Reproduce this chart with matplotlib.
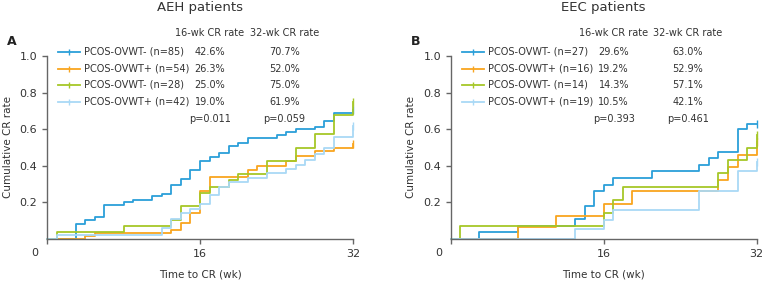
import matplotlib.pyplot as plt

plt.rcParams['font.family'] = ['DejaVu Sans']

colors = ['#2b9fd9', '#f9a51f', '#a6c728', '#a9d9f6']
labels_a = ['PCOS-OVWT- (n=85)', 'PCOS-OVWT+ (n=54)', 'PCOS-OVWT- (n=28)', 'PCOS-OVWT+ (n=42)']
labels_b = ['PCOS-OVWT- (n=27)', 'PCOS-OVWT+ (n=16)', 'PCOS-OVWT- (n=14)', 'PCOS-OVWT+ (n=19)']
rate16_a = ['42.6%', '26.3%', '25.0%', '19.0%']
rate32_a = ['70.7%', '52.0%', '75.0%', '61.9%']
rate16_b = ['29.6%', '19.2%', '14.3%', '10.5%']
rate32_b = ['63.0%', '52.9%', '57.1%', '42.1%']
pvals_a = ['p=0.011', 'p=0.059']
pvals_b = ['p=0.393', 'p=0.461']

# AEH step curves (time in weeks, cumulative CR rate)
a_blue_t = [0, 3, 4, 5, 6, 8, 9, 11, 12, 13, 14, 15, 16, 17, 18, 19, 20, 21, 24, 25, 26, 28, 29, 30, 32]
a_blue_v = [0, 0.082, 0.105, 0.118, 0.187, 0.20, 0.211, 0.233, 0.247, 0.293, 0.327, 0.375, 0.426,
            0.447, 0.469, 0.509, 0.524, 0.55, 0.568, 0.586, 0.60, 0.614, 0.647, 0.69, 0.707]
a_orange_t = [0, 4, 5, 13, 14, 15, 16, 17, 21, 22, 25, 26, 28, 30, 32]
a_orange_v = [0, 0.018, 0.035, 0.05, 0.085, 0.14, 0.263, 0.338, 0.375, 0.397, 0.424, 0.455, 0.48, 0.50, 0.52]
a_green_t = [0, 1, 8, 13, 14, 16, 17, 19, 20, 23, 26, 28, 30, 32]
a_green_v = [0, 0.036, 0.069, 0.105, 0.178, 0.25, 0.285, 0.32, 0.357, 0.428, 0.50, 0.575, 0.68, 0.75]
a_light_t = [0, 1, 12, 13, 14, 15, 16, 17, 18, 19, 21, 23, 25, 26, 27, 28, 29, 30, 32]
a_light_v = [0, 0.024, 0.06, 0.11, 0.14, 0.165, 0.19, 0.24, 0.284, 0.311, 0.333, 0.36, 0.38, 0.405,
             0.433, 0.466, 0.50, 0.56, 0.619]

# EEC step curves
b_blue_t = [0, 3, 7, 13, 14, 15, 16, 17, 21, 26, 27, 28, 30, 31, 32]
b_blue_v = [0, 0.036, 0.073, 0.109, 0.182, 0.26, 0.296, 0.333, 0.369, 0.405, 0.442, 0.478, 0.60, 0.63, 0.63]
b_orange_t = [0, 7, 11, 16, 19, 28, 29, 30, 32]
b_orange_v = [0, 0.065, 0.124, 0.192, 0.26, 0.324, 0.393, 0.46, 0.529]
b_green_t = [0, 1, 16, 17, 18, 28, 29, 31, 32]
b_green_v = [0, 0.071, 0.142, 0.215, 0.284, 0.36, 0.43, 0.50, 0.571]
b_light_t = [0, 13, 16, 17, 26, 30, 32]
b_light_v = [0, 0.055, 0.105, 0.16, 0.26, 0.369, 0.421]

fig = plt.figure(figsize=(7.64, 2.81), dpi=100)
ax1 = fig.add_axes([47 / 764, 42 / 281, 306 / 764, 183 / 281])
ax2 = fig.add_axes([450.7 / 764, 42 / 281, 306 / 764, 183 / 281])

grey = '#666666'
txt = '#333333'


def draw_panel(ax, curves, labels, r16, r32, pv, title, letter):
    for (t, v), c in zip(curves, colors):
        ax.step(t, v, where='post', color=c, lw=1.3, clip_on=False)
        ax.plot(t[-1], v[-1], marker='|', color=c, ms=6, mew=1.0, clip_on=False)
    ax.set_xlim(0, 32)
    ax.set_ylim(0, 1.0)
    for s in ['top', 'right']:
        ax.spines[s].set_visible(False)
    for s in ['left', 'bottom']:
        ax.spines[s].set_color(grey)
        ax.spines[s].set_linewidth(1.0)
    ax.set_xticks([0, 16, 32])
    ax.set_xticklabels(['', '16', '32'])
    ax.set_yticks([0.2, 0.4, 0.6, 0.8, 1.0])
    ax.set_yticklabels(['0.2', '0.4', '0.6', '0.8', '1.0'])
    ax.tick_params(colors=grey, labelcolor=txt, labelsize=8, length=3.5, width=1.0)
    ax.text(-0.04, -0.075, '0', transform=ax.transAxes, ha='center', va='center', fontsize=8, color=txt)
    ax.set_xlabel('Time to CR (wk)', fontsize=7.5, color=txt, labelpad=8)
    ax.set_ylabel('Cumulative CR rate', fontsize=7.5, color=txt, labelpad=5)
    ax.set_title(title, fontsize=9.5, color=txt, y=1.2)
    ax.text(-0.13, 1.077, letter, transform=ax.transAxes, va='center', fontsize=9,
            fontweight='bold', color='#222222')

    # legend table
    ax.text(17.05, 1.126, '16-wk CR rate', ha='center', va='center', fontsize=7, color=txt, clip_on=False)
    ax.text(24.8, 1.126, '32-wk CR rate', ha='center', va='center', fontsize=7, color=txt, clip_on=False)
    rows = [1.023, 0.931, 0.842, 0.75]
    for y, c, lab, a, b in zip(rows, colors, labels, r16, r32):
        ax.plot([1.15, 3.45], [y, y], color=c, lw=1.3, clip_on=False)
        ax.plot([2.3], [y], marker='|', color=c, ms=5, mew=1.0, clip_on=False)
        ax.text(3.9, y, lab, ha='left', va='center', fontsize=7, color=txt, clip_on=False)
        ax.text(17.05, y, a, ha='center', va='center', fontsize=7, color=txt, clip_on=False)
        ax.text(24.8, y, b, ha='center', va='center', fontsize=7, color=txt, clip_on=False)
    ax.text(17.05, 0.657, pv[0], ha='center', va='center', fontsize=7, color=txt, clip_on=False)
    ax.text(24.8, 0.657, pv[1], ha='center', va='center', fontsize=7, color=txt, clip_on=False)


draw_panel(ax1,
           [(a_blue_t, a_blue_v), (a_orange_t, a_orange_v), (a_green_t, a_green_v), (a_light_t, a_light_v)],
           labels_a, rate16_a, rate32_a, pvals_a, 'AEH patients', 'A')
draw_panel(ax2,
           [(b_blue_t, b_blue_v), (b_orange_t, b_orange_v), (b_green_t, b_green_v), (b_light_t, b_light_v)],
           labels_b, rate16_b, rate32_b, pvals_b, 'EEC patients', 'B')

fig.savefig('out.png', dpi=100)
